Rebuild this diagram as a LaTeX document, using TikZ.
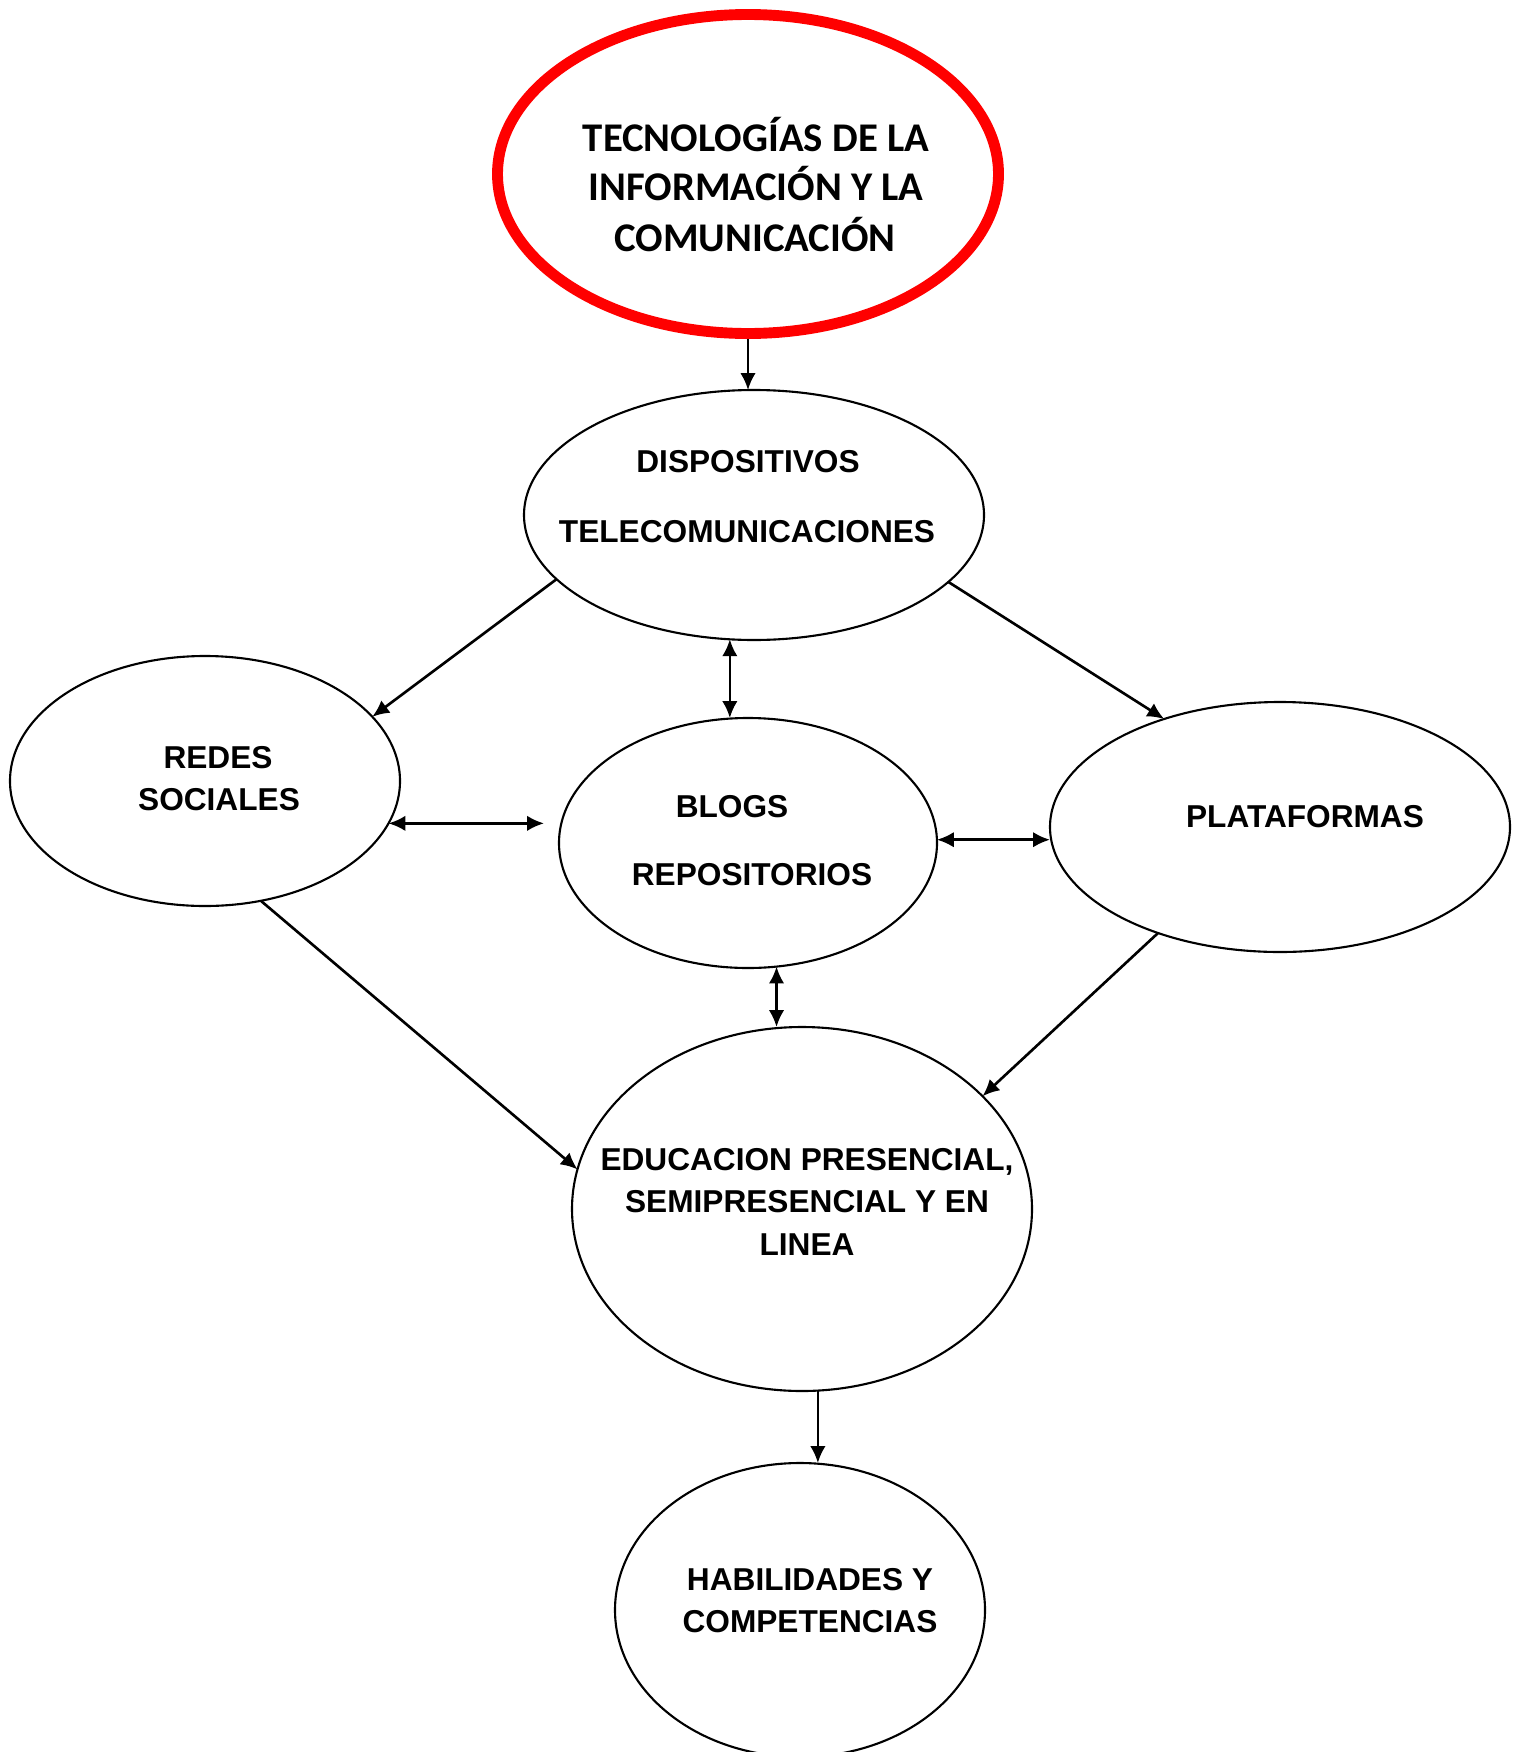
\documentclass[tikz,border=0pt]{standalone}
\usepackage{fontspec}
\setmainfont{Liberation Sans}
\newfontfamily\calibri{Carlito}
\usetikzlibrary{shapes.geometric,arrows.meta}

\begin{document}
\begin{tikzpicture}[
  line width=0.6pt,
  >={Latex[length=4.8pt,width=4.4pt]},
  link/.style={line width=0.75pt},
  bubble/.style={draw=black, ellipse, inner sep=0pt, outer sep=0pt},
  word/.style={anchor=base, inner sep=0pt, font=\fontsize{9}{11}\selectfont\bfseries},
  bigword/.style={anchor=base, inner sep=0pt, font=\fontsize{11.6}{14}\selectfont\calibri\bfseries}]
  \useasboundingbox (0,0) rectangle (15.21,-17.52);

  \node[bubble, draw=red, line width=3.1pt, outer sep=1.55pt, minimum width=5.01cm, minimum height=3.19cm](tic) at (7.48,-1.74) {};
  \node[bigword](tic1) at (7.56,-1.51) {TECNOLOGÍAS DE LA};
  \node[bigword](tic2) at (7.56,-2.00) {INFORMACIÓN Y LA};
  \node[bigword](tic3) at (7.55,-2.51) {COMUNICACIÓN};

  \node[bubble, minimum width=4.60cm, minimum height=2.50cm](disp) at (7.54,-5.15) {};
  \node[word](disp1) at (7.48,-4.72) {DISPOSITIVOS};
  \node[word](disp2) at (7.47,-5.42) {TELECOMUNICACIONES};

  \node[bubble, minimum width=3.90cm, minimum height=2.50cm](redes) at (2.05,-7.81) {};
  \node[word](redes1) at (2.18,-7.68) {REDES};
  \node[word](redes2) at (2.19,-8.10) {SOCIALES};

  \node[bubble, minimum width=3.78cm, minimum height=2.50cm](blogs) at (7.48,-8.43) {};
  \node[word](blogs1) at (7.32,-8.17) {BLOGS};
  \node[word](blogs2) at (7.52,-8.85) {REPOSITORIOS};

  \node[bubble, minimum width=4.60cm, minimum height=2.50cm](plat) at (12.80,-8.27) {};
  \node[word](plat1) at (13.05,-8.27) {PLATAFORMAS};

  \node[bubble, minimum width=4.60cm, minimum height=3.64cm](edu) at (8.02,-12.09) {};
  \node[word](edu1) at (8.07,-11.70) {EDUCACION PRESENCIAL,};
  \node[word](edu2) at (8.07,-12.12) {SEMIPRESENCIAL Y EN};
  \node[word](edu3) at (8.07,-12.55) {LINEA};

  \node[bubble, minimum width=3.70cm, minimum height=2.94cm](hab) at (8.00,-16.10) {};
  \node[word](hab1) at (8.10,-15.90) {HABILIDADES Y};
  \node[word](hab2) at (8.10,-16.32) {COMPETENCIAS};

  \draw[link, ->] (tic.south) -- (tic.south |- disp.north);
  \draw[link, ->] (disp.198) -- (redes.21);
  \draw[link, ->] (disp.341) -- (plat.137);
  \draw[link, <->] (disp.259) -- (disp.259 |- blogs.north);
  \draw[link, <->, shorten >=0.15cm] (redes.347) -- (redes.347 -| blogs.west);
  \draw[link, <->] (blogs.1.5) -- (blogs.1.5 -| plat.west);
  \draw[link, <->] (blogs.283) -- (blogs.283 |- edu.north);
  \draw[link, ->] (redes.295) -- (edu.170);
  \draw[link, ->] (plat.221) -- (edu.32);
  \draw[link, ->] (edu.275) -- (edu.275 |- hab.north);
\end{tikzpicture}
\end{document}
